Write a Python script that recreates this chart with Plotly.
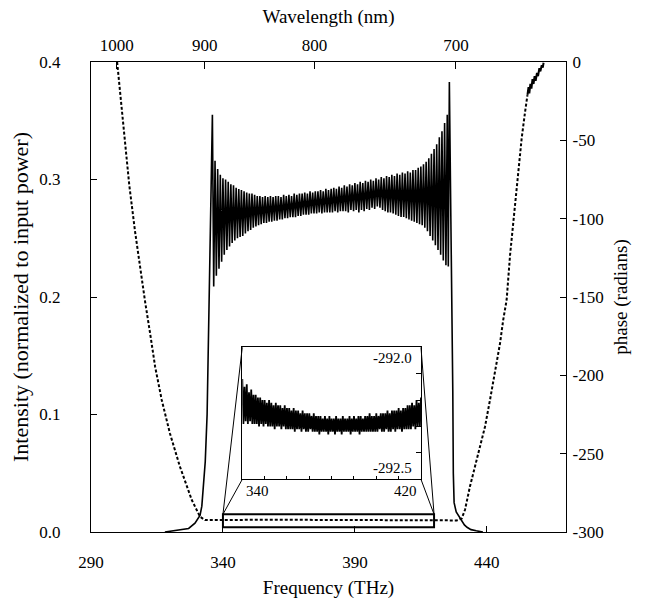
import plotly.graph_objects as go

C_NM_THZ = 299792.458

# ---------------- axis ticks ----------------
freq_ticks = [290, 340, 390, 440]
wavelength_ticks_nm = [1000, 900, 800, 700]
intensity_ticks = [0.0, 0.1, 0.2, 0.3, 0.4]
phase_ticks = [-300, -250, -200, -150, -100, -50, 0]

# ---------------- intensity (left axis) ----------------
edge_left_freq = [318.0, 320.6, 324.0, 327.0, 329.4, 330.5, 331.3, 332.0, 332.7,
                  333.3, 334.0, 334.6, 335.1, 335.6]
edge_left_int = [0.0, 0.0008, 0.0015, 0.003, 0.0075, 0.011, 0.014, 0.022, 0.04,
                 0.06, 0.10, 0.17, 0.22, 0.30]

fringe_peak_freq = [336, 337, 338, 339, 340, 341, 342, 343, 344, 345,
                    346, 347, 348, 349, 350, 351, 352, 353, 354, 355,
                    356, 357, 358, 359, 360, 361, 362, 363, 364, 365,
                    366, 367, 368, 369, 370, 371, 372, 373, 374, 375,
                    376, 377, 378, 379, 380, 381, 382, 383, 384, 385,
                    386, 387, 388, 389, 390, 391, 392, 393, 394, 395,
                    396, 397, 398, 399, 400, 401, 402, 403, 404, 405,
                    406, 407, 408, 409, 410, 411, 412, 413, 414, 415,
                    416, 417, 418, 419, 420, 421, 422, 423, 424, 425]
fringe_peak_int = [0.355, 0.316, 0.309, 0.304, 0.301, 0.300, 0.298, 0.296, 0.295, 0.293,
                   0.292, 0.291, 0.290, 0.289, 0.288, 0.288, 0.287, 0.286, 0.286, 0.285,
                   0.286, 0.285, 0.286, 0.285, 0.286, 0.286, 0.285, 0.287, 0.286, 0.287,
                   0.286, 0.288, 0.287, 0.288, 0.288, 0.289, 0.288, 0.290, 0.289, 0.290,
                   0.290, 0.291, 0.290, 0.292, 0.291, 0.292, 0.293, 0.292, 0.294, 0.293,
                   0.295, 0.294, 0.296, 0.295, 0.297, 0.296, 0.298, 0.297, 0.299, 0.298,
                   0.300, 0.299, 0.301, 0.300, 0.302, 0.301, 0.303, 0.302, 0.304, 0.303,
                   0.305, 0.304, 0.306, 0.305, 0.307, 0.306, 0.308, 0.308, 0.310, 0.311,
                   0.313, 0.315, 0.318, 0.322, 0.326, 0.330, 0.336, 0.341, 0.348, 0.355]
fringe_trough_freq = [336.5, 337.5, 338.5, 339.5, 340.5, 341.5, 342.5, 343.5, 344.5, 345.5,
                      346.5, 347.5, 348.5, 349.5, 350.5, 351.5, 352.5, 353.5, 354.5, 355.5,
                      356.5, 357.5, 358.5, 359.5, 360.5, 361.5, 362.5, 363.5, 364.5, 365.5,
                      366.5, 367.5, 368.5, 369.5, 370.5, 371.5, 372.5, 373.5, 374.5, 375.5,
                      376.5, 377.5, 378.5, 379.5, 380.5, 381.5, 382.5, 383.5, 384.5, 385.5,
                      386.5, 387.5, 388.5, 389.5, 390.5, 391.5, 392.5, 393.5, 394.5, 395.5,
                      396.5, 397.5, 398.5, 399.5, 400.5, 401.5, 402.5, 403.5, 404.5, 405.5,
                      406.5, 407.5, 408.5, 409.5, 410.5, 411.5, 412.5, 413.5, 414.5, 415.5,
                      416.5, 417.5, 418.5, 419.5, 420.5, 421.5, 422.5, 423.5, 424.5]
fringe_trough_int = [0.209, 0.218, 0.224, 0.230, 0.236, 0.240, 0.243, 0.246, 0.248, 0.250,
                     0.251, 0.252, 0.254, 0.256, 0.257, 0.259, 0.260, 0.261, 0.262, 0.263,
                     0.263, 0.264, 0.264, 0.265, 0.265, 0.266, 0.266, 0.267, 0.267, 0.268,
                     0.268, 0.268, 0.269, 0.269, 0.270, 0.270, 0.270, 0.271, 0.271, 0.271,
                     0.272, 0.271, 0.272, 0.272, 0.272, 0.272, 0.273, 0.272, 0.273, 0.273,
                     0.273, 0.272, 0.274, 0.273, 0.274, 0.272, 0.274, 0.273, 0.275, 0.274,
                     0.276, 0.275, 0.277, 0.276, 0.274, 0.273, 0.272, 0.272, 0.271, 0.270,
                     0.269, 0.268, 0.268, 0.267, 0.266, 0.265, 0.264, 0.263, 0.262, 0.261,
                     0.259, 0.256, 0.252, 0.248, 0.244, 0.240, 0.236, 0.231, 0.227]

edge_right_freq = [425.4, 425.8, 426.2, 426.6, 426.9, 427.1, 427.3, 427.6, 428.4,
                   429.5, 430.5, 431.5, 432.5, 434.0, 436.0, 438.5]
edge_right_int = [0.226, 0.383, 0.30, 0.22, 0.19, 0.12, 0.05, 0.025, 0.017,
                  0.013, 0.010, 0.006, 0.004, 0.002, 0.001, 0.0]

# ---------------- spectral phase (right axis) ----------------
phase_freq = [299.9, 302.2, 304.5, 306.7, 308.6, 310.5, 312.4, 314.3, 316.8, 319.9,
              323.7, 328.2, 331.3, 333.2, 336.0, 345.0, 360.0, 380.0, 400.0, 415.0,
              425.0, 428.6, 430.5, 431.7, 433.6, 435.5, 437.4, 439.3, 441.2, 443.1,
              445.0, 446.2, 447.5, 448.8, 450.7, 451.9, 453.2, 454.5, 455.4]
phase_val = [0.0, -38.1, -78.5, -108.3, -131.7, -153.0, -173.2, -194.5, -215.7, -237.0,
             -258.3, -279.6, -290.2, -292.4, -292.3, -292.2, -292.22, -292.28, -292.29, -292.27,
             -292.3, -292.6, -291.3, -286.0, -271.0, -258.3, -245.5, -232.8, -215.7, -198.7,
             -179.6, -164.7, -151.9, -123.2, -91.3, -70.0, -48.7, -31.7, -21.1]

phase_noisy_freq = [455.4, 455.8, 456.1, 456.5, 456.9, 457.3, 457.7, 458.1, 458.5,
                    459.0, 459.4, 459.9, 460.3, 460.8, 461.2, 461.5]
phase_noisy_val = [-21.0, -16.0, -20.0, -14.0, -17.0, -11.0, -14.0, -9.0, -12.0,
                   -7.0, -9.0, -4.0, -6.0, -2.0, -3.5, -0.5]

# ---------------- inset: phase detail ----------------
inset_upper_freq = [340, 341, 342, 343, 344, 345, 346, 347, 348, 349,
                    350, 351, 352, 353, 354, 355, 356, 357, 358, 359,
                    360, 361, 362, 363, 364, 365, 366, 367, 368, 369,
                    370, 371, 372, 373, 374, 375, 376, 377, 378, 379,
                    380, 381, 382, 383, 384, 385, 386, 387, 388, 389,
                    390, 391, 392, 393, 394, 395, 396, 397, 398, 399,
                    400, 401, 402, 403, 404, 405, 406, 407, 408, 409,
                    410, 411, 412, 413, 414, 415, 416, 417, 418, 419, 420]
inset_upper_phase = [-292.12, -292.15, -292.14, -292.17, -292.16, -292.18, -292.18, -292.19, -292.19, -292.20,
                     -292.20, -292.21, -292.20, -292.21, -292.22, -292.21, -292.22, -292.22, -292.23, -292.22,
                     -292.23, -292.23, -292.24, -292.23, -292.24, -292.24, -292.25, -292.24, -292.25, -292.25,
                     -292.25, -292.26, -292.25, -292.26, -292.26, -292.26, -292.27, -292.26, -292.27, -292.26,
                     -292.27, -292.27, -292.26, -292.27, -292.27, -292.26, -292.27, -292.27, -292.26, -292.27,
                     -292.26, -292.27, -292.26, -292.26, -292.27, -292.26, -292.26, -292.25, -292.26, -292.26,
                     -292.25, -292.26, -292.25, -292.25, -292.25, -292.24, -292.25, -292.24, -292.24, -292.24,
                     -292.23, -292.24, -292.23, -292.23, -292.22, -292.22, -292.21, -292.22, -292.20, -292.21, -292.19]
inset_lower_freq = [340.5, 341.5, 342.5, 343.5, 344.5, 345.5, 346.5, 347.5, 348.5, 349.5,
                    350.5, 351.5, 352.5, 353.5, 354.5, 355.5, 356.5, 357.5, 358.5, 359.5,
                    360.5, 361.5, 362.5, 363.5, 364.5, 365.5, 366.5, 367.5, 368.5, 369.5,
                    370.5, 371.5, 372.5, 373.5, 374.5, 375.5, 376.5, 377.5, 378.5, 379.5,
                    380.5, 381.5, 382.5, 383.5, 384.5, 385.5, 386.5, 387.5, 388.5, 389.5,
                    390.5, 391.5, 392.5, 393.5, 394.5, 395.5, 396.5, 397.5, 398.5, 399.5,
                    400.5, 401.5, 402.5, 403.5, 404.5, 405.5, 406.5, 407.5, 408.5, 409.5,
                    410.5, 411.5, 412.5, 413.5, 414.5, 415.5, 416.5, 417.5, 418.5, 419.5]
inset_lower_phase = [-292.29, -292.28, -292.29, -292.28, -292.29, -292.29, -292.29, -292.30, -292.29, -292.30,
                     -292.29, -292.30, -292.30, -292.30, -292.31, -292.30, -292.30, -292.31, -292.30, -292.31,
                     -292.31, -292.31, -292.31, -292.32, -292.31, -292.31, -292.32, -292.31, -292.32, -292.32,
                     -292.31, -292.32, -292.32, -292.32, -292.33, -292.32, -292.32, -292.32, -292.33, -292.32,
                     -292.32, -292.33, -292.32, -292.32, -292.33, -292.32, -292.32, -292.32, -292.33, -292.32,
                     -292.32, -292.32, -292.33, -292.32, -292.32, -292.32, -292.32, -292.32, -292.32, -292.32,
                     -292.32, -292.31, -292.32, -292.32, -292.31, -292.32, -292.32, -292.31, -292.32, -292.31,
                     -292.31, -292.32, -292.31, -292.31, -292.31, -292.31, -292.30, -292.31, -292.30, -292.30]
inset_freq_range = [340, 420]
inset_phase_range = [-292.5, -292.0]
inset_phase_ticks = [-292.4, -292.3, -292.2, -292.1]
inset_freq_ticks = [350, 360, 370, 380, 390, 400, 410]

# zoom marker rectangle on the main plot (phase axis units)
zoom_box_freq = [340, 420]
zoom_box_phase = [-297.0, -288.7]

# ---------------- layout constants ----------------
X_RANGE = [290, 470]
Y_RANGE = [0, 0.4]
Y2_RANGE = [-300, 0]
INSET_DX = [0.3185, 0.6947]
INSET_DY = [0.1121, 0.393]
FONT = "Liberation Serif"

# build zig-zag (alternating peak / trough) traces
fr = sorted(zip(fringe_peak_freq + fringe_trough_freq, fringe_peak_int + fringe_trough_int))
int_x = edge_left_freq + [p[0] for p in fr] + edge_right_freq
int_y = edge_left_int + [p[1] for p in fr] + edge_right_int

ins = sorted(zip(inset_upper_freq + inset_lower_freq, inset_upper_phase + inset_lower_phase))
ins_x = [p[0] for p in ins]
ins_y = [p[1] for p in ins]

fig = go.Figure()
fig.add_trace(go.Scatter(x=phase_freq, y=phase_val, xaxis="x", yaxis="y2", mode="lines",
                         line=dict(color="black", width=2, dash="3px,2px"), name="phase"))
fig.add_trace(go.Scatter(x=phase_noisy_freq, y=phase_noisy_val, xaxis="x", yaxis="y2", mode="lines",
                         line=dict(color="black", width=2), name="phase (noisy)"))
fig.add_trace(go.Scatter(x=int_x, y=int_y, xaxis="x", yaxis="y", mode="lines",
                         line=dict(color="black", width=1.6), name="intensity"))
wl_pos = [C_NM_THZ / w for w in wavelength_ticks_nm]
fig.add_trace(go.Scatter(x=wl_pos, y=[None] * len(wl_pos), xaxis="x2", yaxis="y", mode="markers",
                         marker=dict(opacity=0), hoverinfo="skip", name="wavelength"))
fig.add_trace(go.Scatter(x=ins_x, y=ins_y, xaxis="x3", yaxis="y3", mode="lines",
                         line=dict(color="black", width=1.8), name="phase detail"))

axis_common = dict(showline=True, linecolor="black", linewidth=1.3, showgrid=False,
                   zeroline=False, ticks="inside", tickcolor="black", tickwidth=1,
                   automargin=False,
                   tickfont=dict(family=FONT, size=17, color="black"))
title_font = dict(family=FONT, size=19, color="black")
inset_axis = {k: v for k, v in axis_common.items() if k != "tickfont"}

fig.update_layout(
    width=647, height=602,
    margin=dict(l=91, r=81, t=62, b=70),
    paper_bgcolor="white", plot_bgcolor="white",
    showlegend=False,
    font=dict(family=FONT, size=17, color="black"),
    xaxis=dict(domain=[0, 1], range=X_RANGE, tickvals=freq_ticks,
               ticktext=[str(v) for v in freq_ticks], ticklen=6, anchor="y",
               ticklabelstandoff=14,
               title=dict(text="Frequency (THz)", font=title_font, standoff=10),
               **axis_common),
    xaxis2=dict(overlaying="x", side="top", anchor="y", range=X_RANGE, tickvals=wl_pos,
                ticktext=[str(w) for w in wavelength_ticks_nm], ticklen=7,
                ticklabelstandoff=3,
                title=dict(text="Wavelength (nm)", font=title_font, standoff=7),
                **axis_common),
    yaxis=dict(domain=[0, 1], range=Y_RANGE, tickvals=intensity_ticks,
               ticktext=["%.1f" % v for v in intensity_ticks], ticklen=6, anchor="x",
               ticklabelstandoff=26,
               title=dict(text="Intensity (normalized to input power)",
                          font=dict(family=FONT, size=22, color="black"), standoff=4),
               **axis_common),
    yaxis2=dict(overlaying="y", side="right", anchor="x", range=Y2_RANGE, tickvals=phase_ticks,
                ticktext=[str(v) for v in phase_ticks], ticklen=6,
                ticklabelstandoff=2,
                title=dict(text="phase (radians)", font=title_font, standoff=10),
                **axis_common),
    xaxis3=dict(domain=INSET_DX, anchor="y3", range=inset_freq_range, tickvals=inset_freq_ticks,
                showticklabels=False, ticklen=3, mirror=True, **inset_axis),
    yaxis3=dict(domain=INSET_DY, anchor="x3", side="right", range=inset_phase_range,
                tickvals=inset_phase_ticks, showticklabels=False, ticklen=5, mirror=True,
                **inset_axis),
)

def px_x(f):
    return (f - X_RANGE[0]) / (X_RANGE[1] - X_RANGE[0])

def px_y2(p):
    return (p - Y2_RANGE[0]) / (Y2_RANGE[1] - Y2_RANGE[0])

shapes = [dict(type="rect", xref="x", yref="y2", x0=zoom_box_freq[0], x1=zoom_box_freq[1],
               y0=zoom_box_phase[0], y1=zoom_box_phase[1], line=dict(color="black", width=2))]
corner_l = (px_x(zoom_box_freq[0]), px_y2(zoom_box_phase[1]))
corner_r = (px_x(zoom_box_freq[1]), px_y2(zoom_box_phase[1]))
for iy in (0, 1):
    shapes.append(dict(type="line", xref="paper", yref="paper", x0=INSET_DX[0], y0=INSET_DY[iy],
                       x1=corner_l[0], y1=corner_l[1], line=dict(color="black", width=1)))
    shapes.append(dict(type="line", xref="paper", yref="paper", x0=INSET_DX[1], y0=INSET_DY[iy],
                       x1=corner_r[0], y1=corner_r[1], line=dict(color="black", width=1)))
fig.update_layout(shapes=shapes)

inset_font = dict(family=FONT, size=15, color="black")
fig.update_layout(annotations=[
    dict(x=inset_freq_range[0], y=inset_phase_range[0], xref="x3", yref="y3", text=str(inset_freq_range[0]),
         showarrow=False, xanchor="left", yanchor="top", xshift=2, yshift=-2, font=inset_font),
    dict(x=inset_freq_range[1], y=inset_phase_range[0], xref="x3", yref="y3", text=str(inset_freq_range[1]),
         showarrow=False, xanchor="right", yanchor="top", xshift=-2, yshift=-2, font=inset_font),
    dict(x=inset_freq_range[1], y=inset_phase_range[1], xref="x3", yref="y3", text="%.1f" % inset_phase_range[1],
         showarrow=False, xanchor="right", yanchor="top", xshift=-7, yshift=-1, font=inset_font),
    dict(x=inset_freq_range[1], y=inset_phase_range[0], xref="x3", yref="y3", text="%.1f" % inset_phase_range[0],
         showarrow=False, xanchor="right", yanchor="bottom", xshift=-7, yshift=1, font=inset_font),
])

fig.write_html("out.html", config={"displayModeBar": False},
               post_script="document.body.style.margin='0';")
